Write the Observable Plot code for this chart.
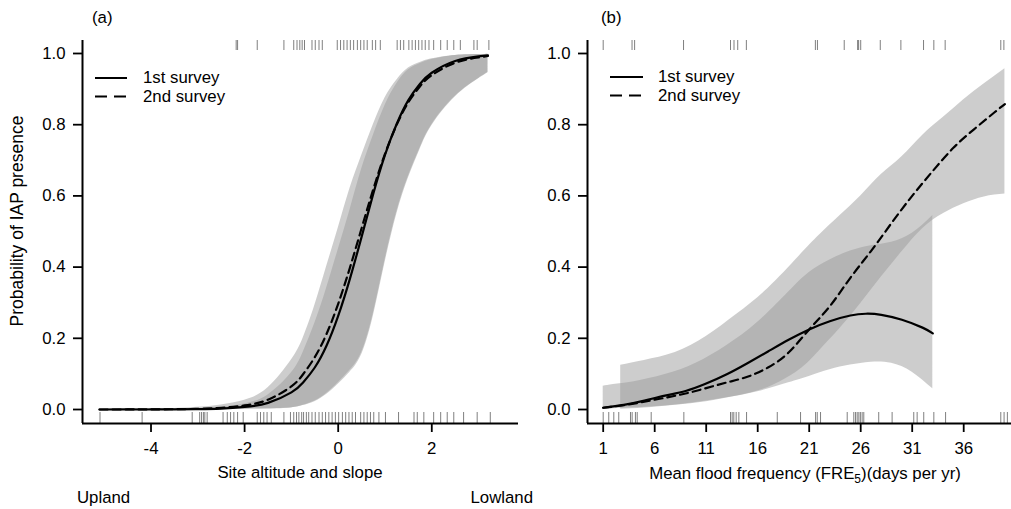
<!DOCTYPE html>
<html><head><meta charset="utf-8">
<script src="https://cdn.jsdelivr.net/npm/d3@7"></script>
<script src="https://cdn.jsdelivr.net/npm/@observablehq/plot@0.6"></script>
<style>
body{margin:0;background:#fff}
#wrap{position:relative;width:1011px;height:509px;overflow:hidden;background:#fff;font-family:"Liberation Sans",Arial,sans-serif}
#wrap > svg{position:absolute;left:0;top:0}
</style></head><body><div id="wrap"></div>
<script>
// ---------- Panel (a): site altitude and slope ----------
const altX      = [-5.1,-4.5,-4,-3.5,-3,-2.5,-2,-1.5,-1,-0.75,-0.5,-0.25,0,0.25,0.5,0.75,1,1.25,1.5,1.75,2,2.5,3,3.2];
const alt1st    = [0,0.0001,0.0001,0.0004,0.001,0.0027,0.0072,0.0187,0.048,0.076,0.118,0.179,0.263,0.367,0.485,0.606,0.715,0.802,0.869,0.915,0.946,0.979,0.992,0.995];
const alt2nd    = [0,0.0001,0.0003,0.0008,0.0019,0.0047,0.0114,0.0276,0.065,0.099,0.147,0.212,0.297,0.398,0.509,0.619,0.718,0.80,0.863,0.908,0.939,0.974,0.989,0.993];
const alt1stLo  = [0,0,0,0,0.0001,0.0003,0.001,0.002,0.005,0.012,0.024,0.045,0.075,0.11,0.16,0.27,0.42,0.555,0.655,0.735,0.80,0.88,0.93,0.947];
const alt1stHi  = [0,0.0001,0.0003,0.0008,0.0021,0.0058,0.0155,0.041,0.103,0.16,0.242,0.34,0.449,0.56,0.675,0.77,0.854,0.915,0.954,0.972,0.983,0.9945,0.997,0.998];
const alt2ndLo  = [0,0,0,0,0.0001,0.0002,0.0008,0.0017,0.0045,0.011,0.022,0.042,0.071,0.105,0.154,0.262,0.412,0.548,0.65,0.731,0.797,0.878,0.929,0.946];
const alt2ndHi  = [0.0002,0.0008,0.0015,0.003,0.006,0.013,0.026,0.061,0.139,0.20,0.292,0.40,0.509,0.62,0.713,0.80,0.875,0.925,0.959,0.975,0.985,0.9945,0.997,0.998];
const altRugPresent = [-2.18,-2.15,-1.73,-1.16,-0.95,-0.88,-0.82,-0.77,-0.72,-0.56,-0.49,-0.41,-0.34,-0.02,0.05,0.12,0.19,0.26,0.33,0.41,0.48,0.55,0.62,0.73,0.80,0.90,1.26,1.33,1.40,1.51,1.58,1.65,1.72,1.79,1.86,1.94,2.04,2.19,2.33,2.47,2.61,2.90,2.97,3.22];
const altRugAbsent = [-5.09,-4.19,-3.12,-2.96,-2.92,-2.88,-2.85,-2.80,-2.46,-2.37,-2.30,-2.23,-2.15,-2.03,-1.73,-1.66,-1.59,-1.52,-1.43,-1.16,-1.02,-0.95,-0.89,-0.84,-0.78,-0.74,-0.68,-0.63,-0.56,-0.49,-0.41,-0.34,-0.27,-0.20,-0.13,-0.06,0.01,0.09,0.16,0.23,0.30,0.37,0.48,0.55,0.62,0.69,0.76,0.87,1.01,1.29,1.62,1.69,1.83,2.04,2.19,2.33,2.47,2.68,2.97,3.25];
const altTicks = [-4,-2,0,2];

// ---------- Panel (b): mean flood frequency ----------
const freX1st   = [1,3,5,7,9,11,13,15,17,19,21,23,25,26.5,28,30,32,33];
const fre1st    = [0.005,0.013,0.025,0.039,0.052,0.073,0.099,0.13,0.163,0.196,0.225,0.248,0.264,0.269,0.266,0.252,0.23,0.214];
const freX2nd   = [1,3,5,7,9,11,13,15,17,19,21,23,25,27,29,31,33,35,37,39,40];
const fre2nd    = [0.005,0.012,0.022,0.033,0.045,0.06,0.076,0.092,0.118,0.16,0.225,0.29,0.37,0.445,0.524,0.60,0.67,0.735,0.787,0.835,0.858];
const freBandX1st = [1,2,4,7,10,13,16,19,21,23,25,27,29,31,33];
const fre1stLo  = [0,0.002,0.005,0.01,0.02,0.033,0.05,0.075,0.093,0.112,0.125,0.133,0.13,0.105,0.058];
const fre1stHi  = [0.065,0.07,0.078,0.098,0.13,0.18,0.245,0.33,0.385,0.42,0.445,0.46,0.47,0.495,0.545];
const freBandX2nd = [2.7,5,8,11,14,17,20,22,24,26,28,30,32,34,36,38,40];
const fre2ndLo  = [0.001,0.004,0.012,0.022,0.038,0.062,0.11,0.165,0.228,0.298,0.372,0.443,0.508,0.55,0.578,0.597,0.605];
const fre2ndHi  = [0.124,0.138,0.16,0.205,0.268,0.34,0.43,0.49,0.545,0.60,0.66,0.71,0.77,0.82,0.87,0.915,0.957];
const freRugPresent = [1.0,3.8,4.05,8.8,13.36,13.7,14.06,14.9,21.6,21.8,24.4,25.7,25.8,26.0,27.9,29.9,32.1,33.1,34.2,39.6,39.9];
const freRugAbsent = [1.0,1.54,2.03,2.51,3.65,3.81,4.13,4.3,5.66,8.83,13.36,13.52,13.68,13.91,14.17,14.92,17.9,20.16,21.62,21.78,22.1,24.69,25.33,25.5,25.66,25.82,25.97,26.14,26.3,27.75,29.05,31.15,31.48,32.12,33.1,34.24,39.6,39.92,40.24];
const freTicks = [1,6,11,16,21,26,31,36];

const yTicks = [0,0.2,0.4,0.6,0.8,1.0];
const yDomain = [-0.0393, 1.0365];

const zip = (xs, ys) => xs.map((x, i) => ({x, y: ys[i]}));
const band = (xs, lo, hi) => xs.map((x, i) => ({x, lo: lo[i], hi: hi[i]}));
const FONT = "'Liberation Sans', Arial, sans-serif";
const FS = 16.8;

function panel({xDomain, xTicks, ml, mr, bands, line1, line2, rugTop, rugBottom}) {
  return Plot.plot({
    width: 1011, height: 509,
    marginLeft: ml, marginRight: mr, marginTop: 40, marginBottom: 86,
    style: {background: "transparent", fontFamily: FONT, fontSize: FS + "px", color: "#000", overflow: "visible"},
    x: {domain: xDomain, axis: null},
    y: {domain: yDomain, axis: null},
    marks: [
      ...bands.map(b => Plot.areaY(b, {x: "x", y1: "lo", y2: "hi", fill: "#9b9b9b", fillOpacity: 0.5, curve: "natural"})),
      Plot.ruleX(rugTop, {x: d => d, insetBottom: 373, stroke: "#000", strokeOpacity: 0.5, strokeWidth: 1}),
      Plot.ruleX(rugBottom, {x: d => d, insetTop: 372, stroke: "#000", strokeOpacity: 0.5, strokeWidth: 1}),
      Plot.line(line1, {x: "x", y: "y", stroke: "#000", strokeWidth: 2.2, curve: "natural"}),
      Plot.line(line2, {x: "x", y: "y", stroke: "#000", strokeWidth: 2.2, strokeDasharray: "8,5", curve: "natural"}),
      Plot.axisX(xTicks, {tickFormat: d => String(d), tickSize: 9, tickPadding: 10, fontSize: FS, strokeWidth: 1.8, label: null}),
      Plot.axisY(yTicks, {tickFormat: d => d.toFixed(1), tickSize: 9, tickPadding: 8, fontSize: FS, strokeWidth: 1.8, label: null}),
      Plot.ruleX([xDomain[0]], {stroke: "#000", strokeWidth: 2}),
      Plot.ruleY([yDomain[0]], {stroke: "#000", strokeWidth: 2})
    ]
  });
}

const wrap = document.getElementById("wrap");
wrap.appendChild(panel({
  xDomain: [-5.464, 3.853], xTicks: altTicks, ml: 82, mr: 493,
  bands: [band(altX, alt1stLo, alt1stHi), band(altX, alt2ndLo, alt2ndHi)],
  line1: zip(altX, alt1st), line2: zip(altX, alt2nd),
  rugTop: altRugPresent, rugBottom: altRugAbsent
}));
wrap.appendChild(panel({
  xDomain: [-0.524, 40.64], xTicks: freTicks, ml: 587, mr: 0,
  bands: [band(freBandX1st, fre1stLo, fre1stHi), band(freBandX2nd, fre2ndLo, fre2ndHi)],
  line1: zip(freX1st, fre1st), line2: zip(freX2nd, fre2nd),
  rugTop: freRugPresent, rugBottom: freRugAbsent
}));

// ---------- Text overlay: panel labels, axis titles, legends ----------
const ns = "http://www.w3.org/2000/svg";
const ov = document.createElementNS(ns, "svg");
ov.setAttribute("width", 1011); ov.setAttribute("height", 509);
ov.setAttribute("font-family", FONT); ov.setAttribute("font-size", FS);
ov.innerHTML = `
  <text x="92" y="23">(a)</text>
  <text x="601" y="23">(b)</text>
  <text transform="translate(23,221) rotate(-90)" text-anchor="middle" font-size="17.5">Probability of IAP presence</text>
  <text x="300" y="478" text-anchor="middle">Site altitude and slope</text>
  <text x="77" y="503">Upland</text>
  <text x="533" y="503" text-anchor="end">Lowland</text>
  <text x="805" y="479" text-anchor="middle">Mean flood frequency (FRE<tspan font-size="12" dy="4">5</tspan><tspan dy="-4">)(days per yr)</tspan></text>
  <line x1="95" x2="127" y1="78" y2="78" stroke="#000" stroke-width="2"/>
  <line x1="95" x2="127" y1="96.5" y2="96.5" stroke="#000" stroke-width="2" stroke-dasharray="12,7"/>
  <text x="143" y="82.5">1st survey</text>
  <text x="143" y="101.5">2nd survey</text>
  <line x1="610" x2="643" y1="77" y2="77" stroke="#000" stroke-width="2"/>
  <line x1="610" x2="643" y1="95.5" y2="95.5" stroke="#000" stroke-width="2" stroke-dasharray="12,7"/>
  <text x="658" y="82">1st survey</text>
  <text x="658" y="101">2nd survey</text>
`;
wrap.appendChild(ov);
</script></body></html>
